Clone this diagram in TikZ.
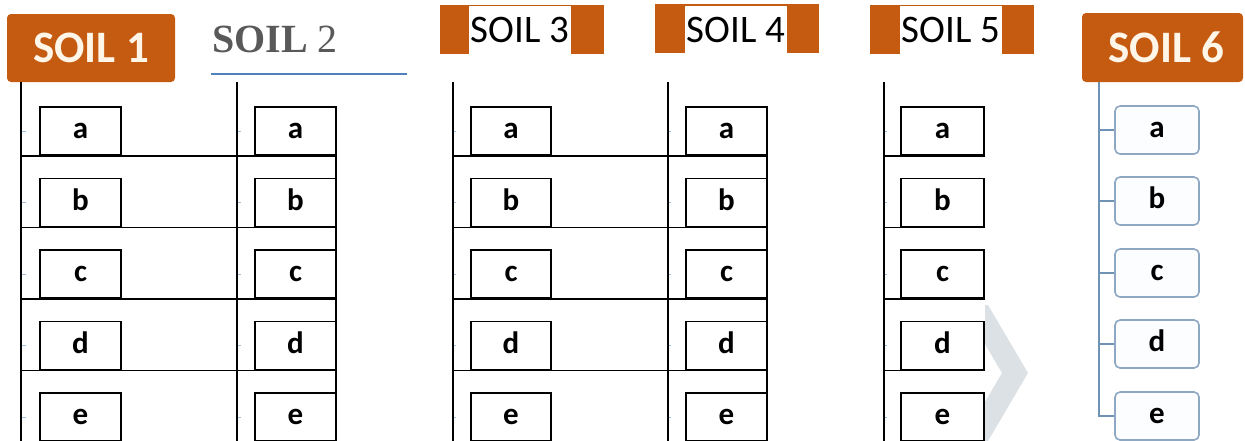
\documentclass[tikz,border=0pt]{standalone}
\usepackage{fontspec}
\setmainfont{Carlito}
\newfontfamily\serifface{Liberation Serif}
\definecolor{soilorange}{RGB}{197,90,17}
\definecolor{soilcream}{RGB}{255,246,232}
\definecolor{soilgray}{RGB}{89,89,89}
\definecolor{rulerblue}{RGB}{79,129,189}
\definecolor{treeblue}{RGB}{112,146,180}
\definecolor{treeedge}{RGB}{142,168,196}
\definecolor{treefill}{RGB}{252,253,255}
\definecolor{chevgray}{RGB}{220,225,229}
\definecolor{tickblue}{RGB}{160,188,220}
\begin{document}
\begin{tikzpicture}[x=1pt,y=-1pt,
  tabline/.style={line width=1.8pt, black},
  letterbox/.style={draw=black, line width=1.8pt, fill=white, inner sep=0pt,
    minimum height=48pt, text height=15pt, text depth=0pt,
    font=\bfseries\fontsize{31}{32}\selectfont},
  treebox/.style={draw=treeedge, line width=1.6pt, fill=treefill, rounded corners=5pt,
    inner sep=0pt, minimum width=84pt, minimum height=48pt, text height=15pt, text depth=0pt,
    font=\bfseries\fontsize{31}{32}\selectfont},
  treeline/.style={treeblue, line width=2pt},
  badge/.style={fill=soilorange, rounded corners=4pt, inner sep=0pt, text=soilcream,
    font=\bfseries\fontsize{45}{50}\selectfont},
  tabbar/.style={fill=soilorange, inner sep=0pt, minimum width=164pt, minimum height=49pt},
  tabtitle/.style={fill=white, inner sep=0pt, minimum width=102pt, minimum height=48pt,
    font=\fontsize{39}{42}\selectfont},
  tick/.style={tickblue, line width=0.6pt}
]
\useasboundingbox (0,0) rectangle (1245,440);
\clip (0,0) rectangle (1245,440);

% faint chevron behind the fifth column
\begin{scope}
  \clip (985,0) rectangle (1245,440);
  \fill[chevgray] (962,305) -- (988,305) -- (1028,373) -- (988,441) -- (962,441) -- (1002,373) -- cycle;
\end{scope}

% headers
\node[badge, minimum width=168pt, minimum height=68pt] (s1) at (91,48) {SOIL 1};
\node[anchor=base west, inner sep=0pt, text=soilgray, font=\serifface\fontsize{40}{44}\selectfont]
  (s2) at (212,52) {\textbf{SOIL} 2};
\coordinate (u1) at (211,74);
\coordinate (u2) at (407,74);
\draw[rulerblue, line width=2.6pt] (u1) -- (u2);

\node[tabbar] (s3bar) at (522,29.5) {};
\node[tabtitle] (s3) at (520,30) {SOIL 3};
\node[tabbar] (s4bar) at (737,28.5) {};
\node[tabtitle, minimum height=47pt] (s4) at (736,29.5) {SOIL 4};
\node[tabbar] (s5bar) at (952,29.5) {};
\node[tabtitle] (s5) at (951,30) {SOIL 5};

\node[badge, minimum width=161pt, minimum height=69pt] (s6) at (1162.5,47.5) {\hspace*{8pt}SOIL 6};

% column rules
\foreach \i/\x in {1/21, 2/237, 3/453, 4/668, 5/884} {
  \coordinate (top\i) at (\x,82);
  \coordinate (bot\i) at (\x,445);
  \draw[tabline] (top\i) -- (bot\i);
}
\coordinate (rtop2) at (336,107);
\coordinate (rbot2) at (336,445);
\coordinate (rtop4) at (767,107);
\coordinate (rbot4) at (767,445);
\draw[tabline] (rtop2) -- (rbot2);
\draw[tabline] (rtop4) -- (rbot4);

% letter boxes and row rules
\foreach \r/\t/\lab in {1/107/a, 2/178.5/b, 3/250/c, 4/321.5/d, 5/393/e} {
  \pgfmathsetmacro{\cy}{\t+24}
  \node[letterbox, minimum width=81pt] (c1\lab) at (80.5,\cy) {\lab};
  \node[letterbox, minimum width=81pt] (c2\lab) at (295.5,\cy) {\lab};
  \node[letterbox, minimum width=80pt] (c3\lab) at (511,\cy) {\lab};
  \node[letterbox, minimum width=81pt] (c4\lab) at (726.5,\cy) {\lab};
  \node[letterbox, minimum width=83pt] (c5\lab) at (942.5,\cy) {\lab};
  \draw[tabline] (top1 |- c1\lab.south) -- (rtop2 |- c1\lab.south);
  \draw[tabline] (top3 |- c3\lab.south) -- (rtop4 |- c3\lab.south);
  \draw[tabline] (top5 |- c5\lab.south) -- (c5\lab.south east);
  \draw[tick] (top1 |- c1\lab.west) ++(1,0) -- ++(4,0);
  \draw[tick] (top2 |- c2\lab.west) ++(1,0) -- ++(2.5,0);
  \draw[tick] (top3 |- c3\lab.west) ++(1,0) -- ++(1.5,0);
  \draw[tick] (top4 |- c4\lab.west) ++(1,0) -- ++(1.5,0);
  \draw[tick] (top5 |- c5\lab.west) ++(1,0) -- ++(1.5,0);
}

% tree under SOIL 6
\coordinate (trunk) at (1099,82);
\foreach \t/\lab in {106/a, 177/b, 249/c, 320/d, 392/e} {
  \node[treebox] (t\lab) at (1157,\t+24) {\lab};
}
\draw[treeline] (trunk) -- (trunk |- te.west) -- (te.west);
\foreach \lab in {a,b,c,d} {
  \draw[treeline] (trunk |- t\lab.west) -- (t\lab.west);
}
\end{tikzpicture}
\end{document}
